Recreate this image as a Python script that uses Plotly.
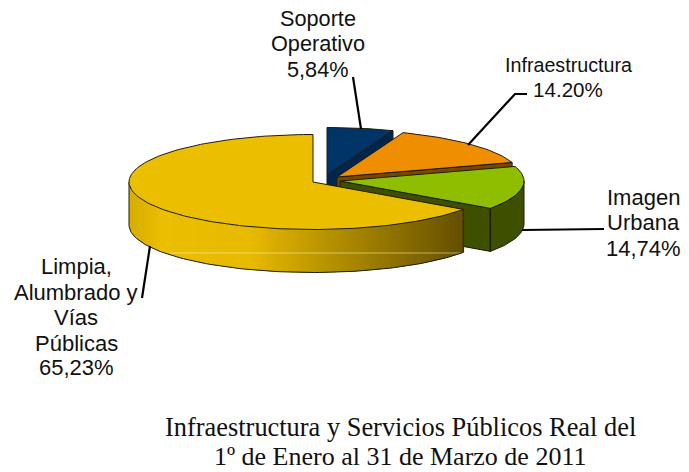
import math
import plotly.graph_objects as go

# ---- data ----
categories = ["Soporte Operativo", "Infraestructura", "Imagen Urbana", "Limpia, Alumbrado y Vías Públicas"]
shares = [5.84, 14.20, 14.74, 65.23]
label_lines = [
    ["Soporte", "Operativo", "5,84%"],
    ["Infraestructura", "14.20%"],
    ["Imagen", "Urbana", "14,74%"],
    ["Limpia,", "Alumbrado y", "Vías", "Públicas", "65,23%"],
]
title_lines = ["Infraestructura y Servicios Públicos Real del", "1º de Enero al 31 de Marzo de 2011"]

# ---- styling / layout ----
W, H = 689, 472
RX, RY, DEPTH = 184, 47.5, 43
CENTRES = [(327, 175), (337, 177), (340, 181), (313, 182)]
TOP = ["#003366", "#EE8E00", "#8FBE00", "#EBBE00"]
WALL = ["#00264D", "#7A4600", "#3F4F00", "#EBBE00"]
EDGE = "#1c1c10"
LABEL_X = [[318, 318, 318], [568, 568], [643, 643, 643], [76, 76, 76, 76, 76]]
LABEL_Y = [[18, 43, 69], [65, 89], [197, 222, 248], [266, 292, 317, 343, 367]]
LABEL_SIZE = [[21.7, 21.7, 21.7], [19.7, 20.6], [22, 22, 22], [22, 22, 22, 22, 22]]
LEADERS = [[(353, 77), (361, 129)],
           [(527, 94), (515, 94), (468, 145)],
           [(522, 230), (604, 229)],
           [(150, 246), (142, 298)]]


def pt(c, deg, dz=0.0, r=1.0):
    a = math.radians(deg)
    return c[0] + RX * r * math.sin(a), c[1] - RY * r * math.cos(a) + dz


def arc(c, a0, a1, dz=0.0, n=None):
    n = n or max(2, int(abs(a1 - a0) / 1.5))
    return [pt(c, a0 + (a1 - a0) * i / n, dz) for i in range(n + 1)]


def poly(fig, pts, fill, line=None, width=1.0):
    xs, ys = zip(*(pts + [pts[0]]))
    fig.add_trace(go.Scatter(x=xs, y=ys, mode="lines", fill="toself", fillcolor=fill,
                             line=dict(color=line or fill, width=width),
                             hoverinfo="skip", showlegend=False))


def stroke(fig, pts, color, width):
    xs, ys = zip(*pts)
    fig.add_trace(go.Scatter(x=xs, y=ys, mode="lines", line=dict(color=color, width=width),
                             hoverinfo="skip", showlegend=False))


def lerp_colour(stops, t):
    for (t0, c0), (t1, c1) in zip(stops, stops[1:]):
        if t <= t1:
            f = (t - t0) / (t1 - t0)
            return "rgb(%d,%d,%d)" % tuple(round(c0[i] + (c1[i] - c0[i]) * f) for i in range(3))
    return "rgb(%d,%d,%d)" % stops[-1][1]


YELLOW_RAMP = [(0.0, (214, 172, 0)), (0.10, (235, 190, 0)), (0.36, (232, 186, 0)),
               (0.62, (178, 142, 0)), (1.0, (100, 78, 0))]

fig = go.Figure()
bounds = [0]
for s in shares:
    bounds.append(bounds[-1] + s / sum(shares) * 360)

for i in range(4):
    c = CENTRES[i]
    a0, a1 = bounds[i], bounds[i + 1]
    # radial cut wall on the clockwise end of the wedge
    if i < 3:
        poly(fig, [c, pt(c, a1), pt(c, a1, DEPTH), (c[0], c[1] + DEPTH)], WALL[i], EDGE, 1)
    if i == 2:
        # visible outer rim of the green wedge
        poly(fig, arc(c, 90, a1) + arc(c, a1, 90, DEPTH), WALL[i], EDGE, 1)
        p = pt(c, a1)
        stroke(fig, [p, (p[0], p[1] + DEPTH)], EDGE, 1)
    elif i == 3:
        # outer rim split into narrow overlapping strips to carry the horizontal shading
        xmin, xmax = c[0] - RX, pt(c, a0)[0]
        n = int((xmax - xmin) / 2)
        ang = lambda x: 180 - math.degrees(math.asin(max(-1, min(1, (x - c[0]) / RX))))
        for k in range(n):
            x0 = xmin + (xmax - xmin) * k / n
            x1 = xmin + (xmax - xmin) * min(k + 2, n) / n
            col = lerp_colour(YELLOW_RAMP, (k + 0.5) / n)
            a_l, a_r = ang(x0), ang(x1)
            top = arc(c, a_l, a_r, 0, 3)
            low = arc(c, a_r, a_l, DEPTH, 3)
            xs, ys = zip(*(top + low + [top[0]]))
            fig.add_trace(go.Scatter(x=xs, y=ys, mode="none", fill="toself", fillcolor=col,
                                     hoverinfo="skip", showlegend=False))
        # faint light seam across the rim
        stroke(fig, [(170, 253), (461, 253)], "rgba(255,240,190,0.55)", 1)
        stroke(fig, arc(c, a0, 270, DEPTH) + [pt(c, 270)], EDGE, 1)
        e = pt(c, a0)
        stroke(fig, [e, (e[0], e[1] + DEPTH)], "#3a2e00", 1.5)
    # top face
    poly(fig, [c] + arc(c, a0, a1), TOP[i], EDGE, 1)

for seg in LEADERS:
    stroke(fig, seg, "black", 2.2)

annotations = []
for lines, xs, ys, sizes in zip(label_lines, LABEL_X, LABEL_Y, LABEL_SIZE):
    for text, x, y, size in zip(lines, xs, ys, sizes):
        annotations.append(dict(x=x, y=y, text=text, showarrow=False, xanchor="center", yanchor="middle",
                                font=dict(family="Liberation Sans", size=size, color="#111111")))
for text, y, size in zip(title_lines, [427, 456], [26.4, 26]):
    annotations.append(dict(x=400, y=y, text=text, showarrow=False, xanchor="center", yanchor="middle",
                            font=dict(family="Liberation Serif", size=size, color="#111111")))

fig.update_layout(
    width=W, height=H, margin=dict(l=0, r=0, t=0, b=0),
    paper_bgcolor="white", plot_bgcolor="white", showlegend=False,
    xaxis=dict(range=[0, W], visible=False, fixedrange=True),
    yaxis=dict(range=[H, 0], visible=False, fixedrange=True),
    annotations=annotations,
)
fig.write_html("out.html", config={"displayModeBar": False},
               post_script="document.body.style.margin='0';")
